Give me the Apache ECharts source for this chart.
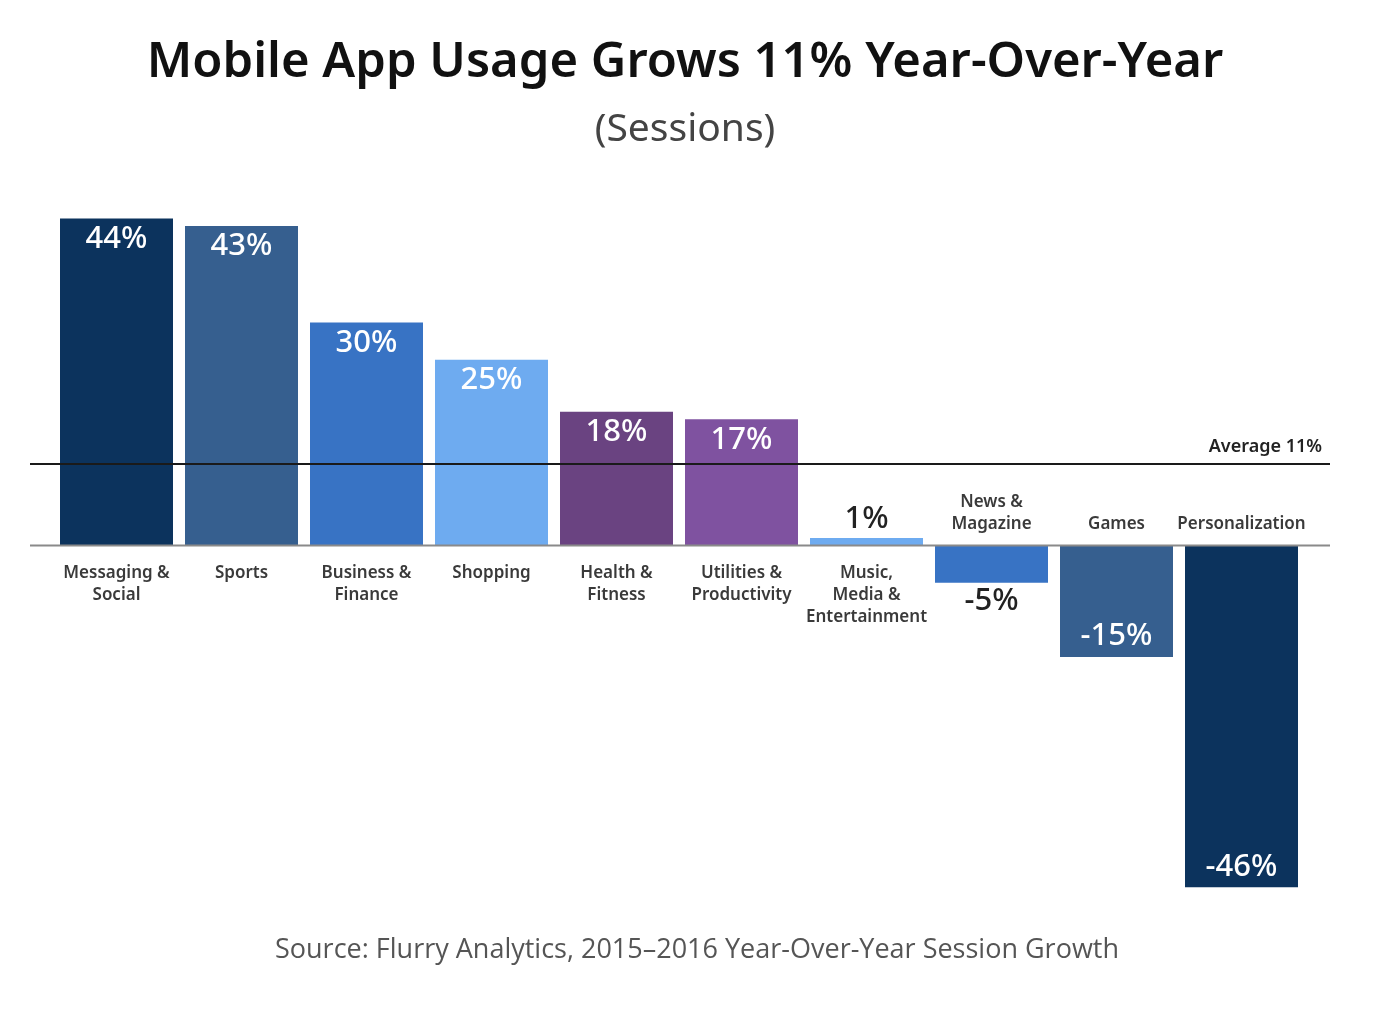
<!DOCTYPE html>
<html><head><meta charset="utf-8">
<script src="https://cdn.jsdelivr.net/npm/echarts@6/dist/echarts.min.js"></script>
<style>html,body{margin:0;padding:0;background:#fff}#c{width:1394px;height:1010px}</style>
</head><body><div id="c"></div>
<script>
const categories = ['Messaging &\nSocial','Sports','Business &\nFinance','Shopping','Health &\nFitness','Utilities &\nProductivity','Music,\nMedia &\nEntertainment','News &\nMagazine','Games','Personalization'];
const values = [44, 43, 30, 25, 18, 17, 1, -5, -15, -46];
const barColors = ['#0c335d','#365f8f','#3873c4','#6eabf0','#6a4381','#7f52a0','#6eabf0','#3873c4','#365f8f','#0c335d'];
const averageValue = 11;
const titleText = 'Mobile App Usage Grows 11% Year-Over-Year';
const subtitleText = '(Sessions)';
const sourceText = 'Source: Flurry Analytics, 2015\u20132016 Year-Over-Year Session Growth';

const FONT = '"Noto Sans", "Open Sans", sans-serif';
const chart = echarts.init(document.getElementById('c'), null, {renderer:'canvas'});

const barData = values.map((v, i) => {
  let label;
  if (Math.abs(v) < 10) {
    label = {position: v >= 0 ? 'top' : 'bottom', color: '#222', distance: 3};
  } else {
    label = {position: v >= 0 ? 'insideTop' : 'insideBottom', color: '#fff', distance: 5};
  }
  return {value: v, itemStyle: {color: barColors[i]}, label};
});

chart.setOption({
  animation: false,
  title: [
    {text: titleText, subtext: subtitleText, left: 680, top: 34, textAlign: 'center', itemGap: 22,
     textStyle: {fontFamily: FONT, fontSize: 49, fontWeight: 600, color: '#111'},
     subtextStyle: {fontFamily: FONT, fontSize: 39, color: '#444'}},
    {text: sourceText, left: 692, top: 932, textAlign: 'center',
     textStyle: {fontFamily: '"Open Sans", sans-serif', fontSize: 27, fontWeight: 400, color: '#555'}}
  ],
  grid: [
    {left: 54, width: 1250, top: 174, height: 743},
    {left: 30, width: 1300, top: 174, height: 743}
  ],
  xAxis: [
    {type: 'category', gridIndex: 0, data: categories, show: false},
    {type: 'value', gridIndex: 1, min: 0, max: 1, show: false}
  ],
  yAxis: [
    {type: 'value', gridIndex: 0, min: -50, max: 50, show: false, splitLine: {show: false}},
    {type: 'value', gridIndex: 1, min: -50, max: 50, show: false, splitLine: {show: false}}
  ],
  series: [
    {type: 'bar', xAxisIndex: 0, yAxisIndex: 0, data: barData, barCategoryGap: '9.6%',
     label: {show: true, fontFamily: FONT, fontSize: 31, fontWeight: 500, formatter: p => p.value + '%'}},
    {type: 'custom', xAxisIndex: 0, yAxisIndex: 0, silent: true, z: 5,
     data: values.map((v, i) => [i, v]),
     renderItem: (params, api) => {
       const i = api.value(0);
       const v = api.value(1);
       const pt = api.coord([i, 0]);
       const above = v < 0;
       return {type: 'text', x: pt[0], y: pt[1] + (above ? -10 : 17),
         style: {text: categories[i], align: 'center', verticalAlign: above ? 'bottom' : 'top',
           fontFamily: FONT, fontSize: 17, fontWeight: 600, fill: '#3a3a3a', lineHeight: 22}};
     }},
    {type: 'line', xAxisIndex: 1, yAxisIndex: 1, data: [[0, 0], [1, 0]], symbol: 'none', silent: true,
     lineStyle: {color: '#8a8a8a', width: 2}, z: 3,
     markLine: {symbol: 'none', silent: true,
       lineStyle: {color: '#1a1a1a', width: 2, type: 'solid'},
       label: {position: 'insideEndTop', formatter: 'Average ' + averageValue + '%', fontFamily: FONT, fontSize: 18, fontWeight: 600, color: '#222', distance: [8, 8]},
       data: [{yAxis: averageValue}]}}
  ]
});
</script></body></html>
